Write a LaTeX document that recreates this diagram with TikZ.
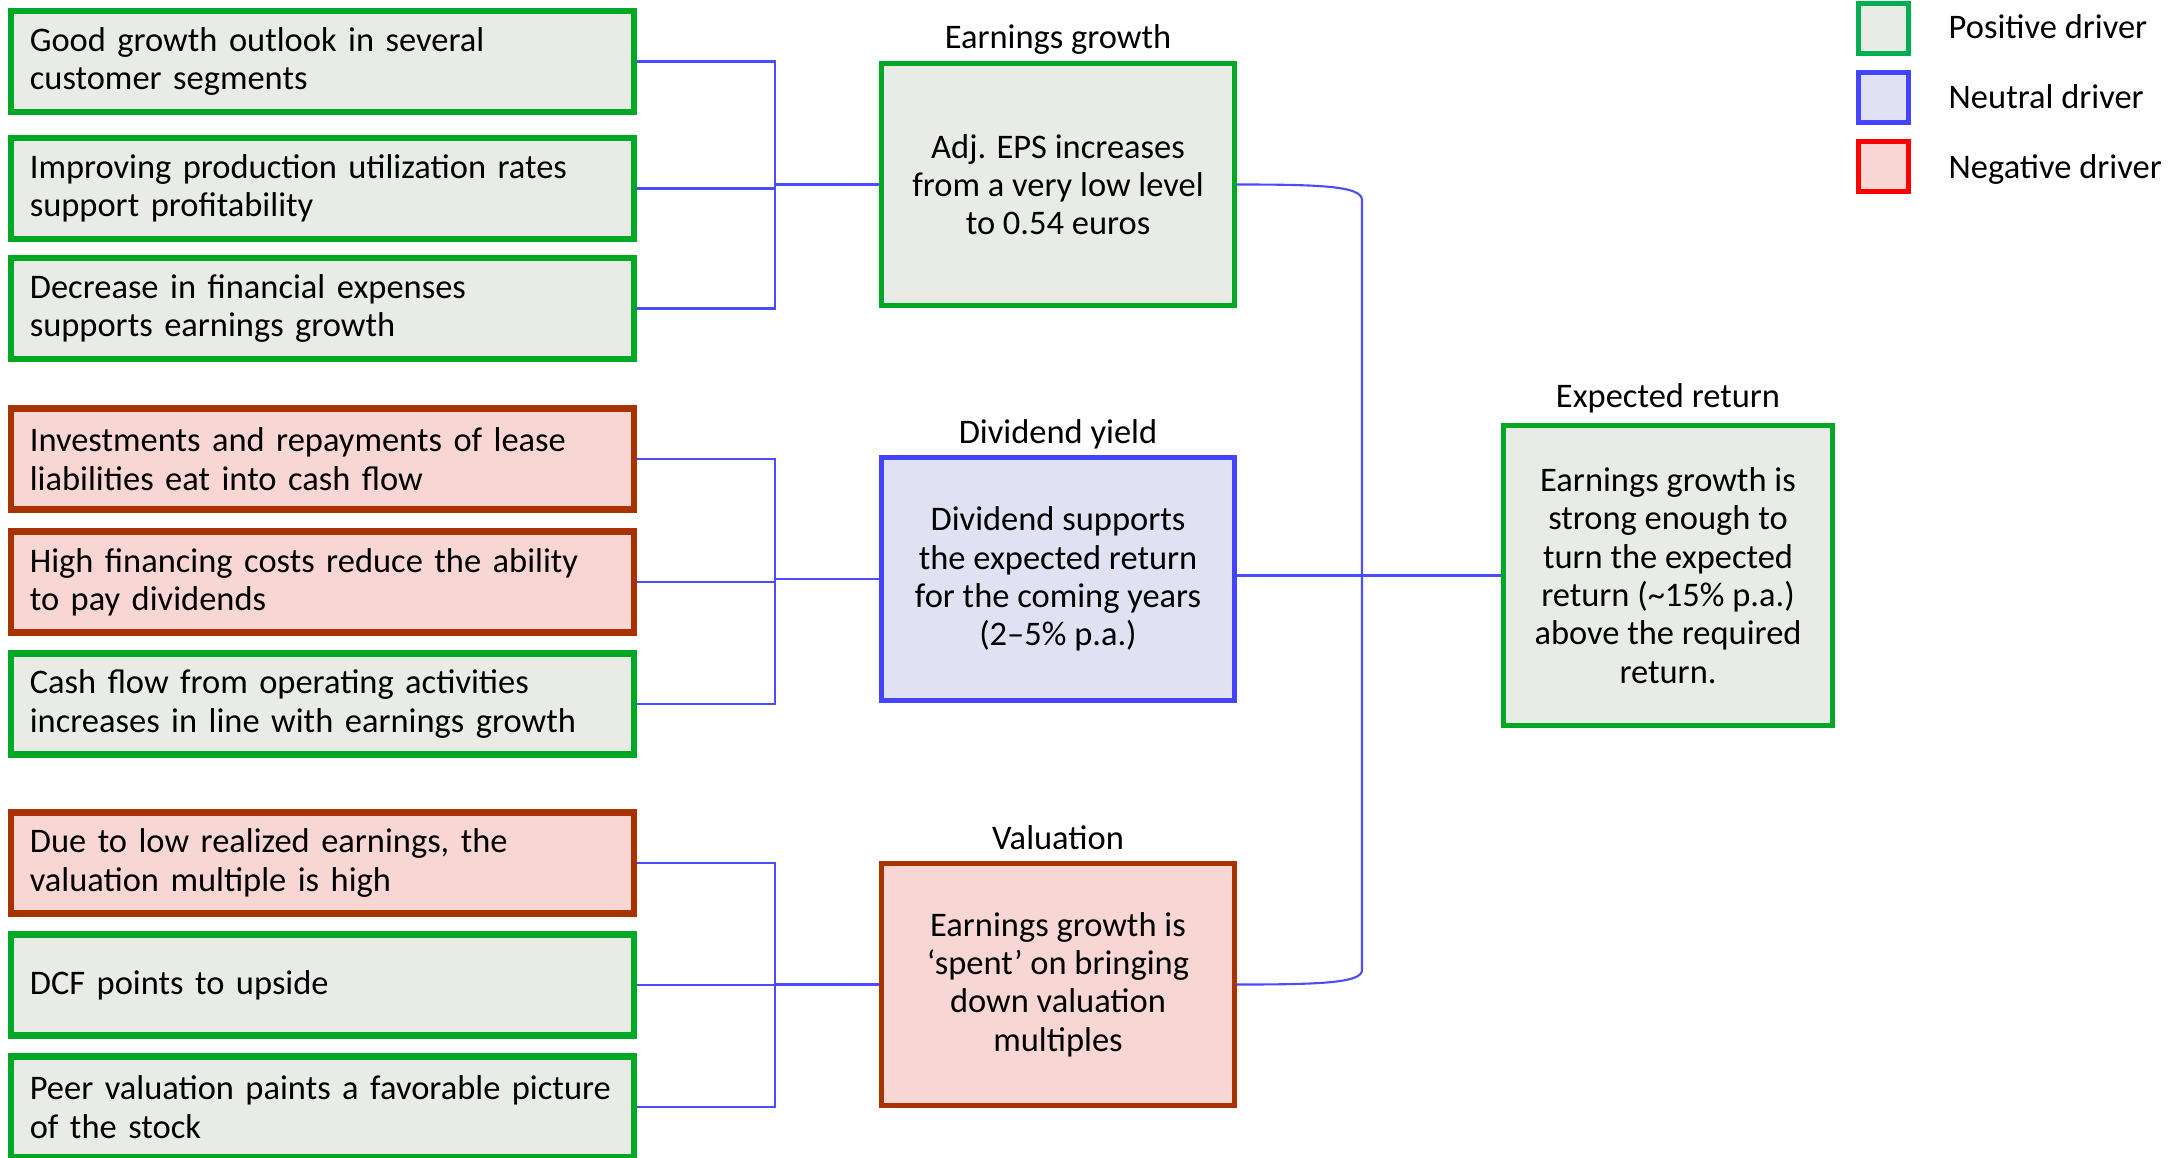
\documentclass[tikz,border=0pt]{standalone}
\usepackage{fontspec}
\setmainfont{Carlito}
\usetikzlibrary{positioning}

\definecolor{posline}{RGB}{0,168,36}
\definecolor{posfill}{RGB}{233,236,230}
\definecolor{neuline}{RGB}{68,68,255}
\definecolor{neufill}{RGB}{224,226,243}
\definecolor{negline}{RGB}{168,50,0}
\definecolor{negfill}{RGB}{248,214,212}
\definecolor{keyposline}{RGB}{0,176,80}
\definecolor{keynegline}{RGB}{255,0,0}
\definecolor{linkblue}{RGB}{76,76,255}

\begin{document}
\begin{tikzpicture}[x=0.01cm,y=-0.01cm,
        font=\fontsize{9.8}{10.9}\selectfont,
        factor node/.style={rectangle,draw,line width=1.85pt,minimum height=1.005cm,
            text width=5.85cm,inner xsep=0.1875cm,align=left},
        driver node/.style={rectangle,draw,line width=1.45pt,minimum width=3.53cm,
            minimum height=2.42cm,align=center},
        key node/.style={rectangle,draw,line width=1.45pt,minimum size=0.5cm},
        key label/.style={anchor=west,inner xsep=0pt,text height=1.6ex,text depth=.4ex},
        positive/.style={draw=posline,fill=posfill},
        neutral/.style={draw=neuline,fill=neufill},
        negative/.style={draw=negline,fill=negfill},
        link line/.style={draw=linkblue,line width=0.6pt}]

    \useasboundingbox (0,0) rectangle (2182,1157);

    % factors
    \node[factor node, positive] (g1) at (322.5,61.5) {Good growth outlook in several\\customer segments};
    \node[factor node, positive] (g2) at (322.5,188.5) {Improving production utilization rates\\support profitability};
    \node[factor node, positive] (g3) at (322.5,308.5) {Decrease in financial expenses\\supports earnings growth};
    \node[factor node, negative] (g4) at (322.5,459) {Investments and repayments of lease\\liabilities eat into cash flow};
    \node[factor node, negative] (g5) at (322.5,582) {High financing costs reduce the ability\\to pay dividends};
    \node[factor node, positive] (g6) at (322.5,704) {Cash flow from operating activities\\increases in line with earnings growth};
    \node[factor node, negative] (g7) at (322.5,863) {Due to low realized earnings, the\\valuation multiple is high};
    \node[factor node, positive] (g8) at (322.5,985) {DCF points to upside};
    \node[factor node, positive] (g9) at (322.5,1107) {Peer valuation paints a favorable picture\\of the stock};

    % drivers
    \node (egt) at (1058,39) {Earnings growth};
    \node[driver node, positive] (eg) at (1058,184.5) {Adj. EPS increases\\from a very low level\\to 0.54 euros};
    \node (dyt) at (1058,434) {Dividend yield};
    \node[driver node, neutral] (dy) at (1058,579) {Dividend supports\\the expected return\\for the coming years\\(2--5\% p.a.)};
    \node (vlt) at (1058,838) {Valuation};
    \node[driver node, negative] (vl) at (1058,984.5) {Earnings growth is\\‘spent’ on bringing\\down valuation\\multiples};

    % result
    \node (ert) at (1668,398) {Expected return};
    \node[driver node, positive, minimum width=3.29cm, minimum height=3cm] (er) at (1668,575.5)
        {Earnings growth is\\strong enough to\\turn the expected\\return (\textasciitilde15\% p.a.)\\above the required\\return.};

    % legend
    \node[key node, fill=posfill, draw=keyposline] (kp) at (1883.5,28.5) {};
    \node[key node, neutral] (kn) at (1883.5,97.5) {};
    \node[key node, fill=negfill, draw=keynegline] (kg) at (1883.5,166.5) {};
    \node[key label] at (1948,28) {Positive driver};
    \node[key label] at (1948,98) {Neutral driver};
    \node[key label] at (1948,168) {Negative driver};

    % junctions
    \coordinate (j1) at (775,184.5);
    \coordinate (j2) at (775,579);
    \coordinate (j3) at (775,984.5);
    \coordinate (ra) at (1362,200);
    \coordinate (rb) at (1362,970);

    \draw[link line] (g1.east) -| (j1) -- (eg.west);
    \draw[link line] (g3.east) -| (j1);
    \draw[link line] (g2.east) -- (g2.east -| j1);
    \draw[link line] (g4.east) -| (j2) -- (dy.west);
    \draw[link line] (g6.east) -| (j2);
    \draw[link line] (g5.east) -- (g5.east -| j2);
    \draw[link line] (g7.east) -| (j3) -- (vl.west);
    \draw[link line] (g9.east) -| (j3);
    \draw[link line] (g8.east) -- (g8.east -| j3);

    \draw[link line] (eg.east) .. controls (1320,184.5) and (1362,186) .. (ra)
        -- (rb) .. controls (1362,983) and (1320,984.5) .. (vl.east);
    \draw[link line] (er.west -| dy.east) -- (er.west);

\end{tikzpicture}
\end{document}
